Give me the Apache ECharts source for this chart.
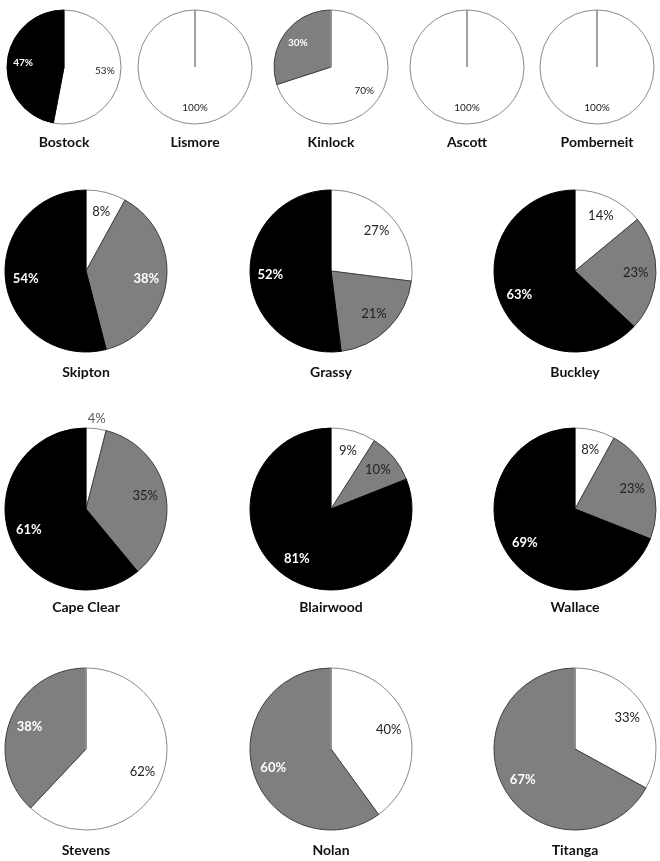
<!DOCTYPE html>
<html><head><meta charset="utf-8">
<script src="https://cdn.jsdelivr.net/npm/echarts@6/dist/echarts.min.js"></script>
<style>html,body{margin:0;padding:0;background:#fff}#c{width:660px;height:861px}</style>
</head><body><div id="c"></div>
<script>
// ---- data ----
const sites = ['Bostock','Lismore','Kinlock','Ascott','Pomberneit','Skipton','Grassy','Buckley','Cape Clear','Blairwood','Wallace','Stevens','Nolan','Titanga'];
const categories = ['White','Grey','Black'];
const whiteShare = [53,100,70,100,100, 8,27,14, 4, 9, 8,62,40,33];
const greyShare  = [ 0,  0,30,  0,  0,38,21,23,35,10,23,38,60,67];
const blackShare = [47,  0, 0,  0,  0,54,52,63,61,81,69, 0, 0, 0];

// ---- styles ----
const fills = ['#ffffff','#7f7f7f','#000000'];
const borders = ['#8a8a8a','#404040','#000000'];
const zeroLine = '#9a9a9a';
const lightGreyLabelSites = ['Kinlock','Skipton','Stevens','Nolan','Titanga'];
const FONT = 'Lato, "Open Sans", sans-serif';

// ---- layout ----
const smallX = [64,195,331,467,597], smallY = 67, smallR = 57;
const bigX = [86,331,575], bigY = [271,509,749], bigR = 81;
const titleYSmall = 142, titleYBig = [372,607,850];

const series = [], titles = [];
sites.forEach((name, i) => {
  let cx, cy, r, ty, small;
  if (i < 5) { cx = smallX[i]; cy = smallY; r = smallR; ty = titleYSmall; small = true; }
  else { const k = i - 5; cx = bigX[k % 3]; cy = bigY[Math.floor(k / 3)]; r = bigR; ty = titleYBig[Math.floor(k / 3)]; small = false; }
  const vals = [whiteShare[i], greyShare[i], blackShare[i]];
  const frac = small ? 0.72 : 0.75;
  const labelR = 2 * (frac * r - 3);
  series.push({
    type: 'pie', center: [cx, cy], radius: [0, r], startAngle: 90, clockwise: true,
    silent: true, animation: false, avoidLabelOverlap: false,
    label: { show: false }, labelLine: { show: false },
    data: vals.map((v, c) => ({
      name: categories[c], value: v,
      itemStyle: { color: fills[c], borderColor: v === 0 ? zeroLine : borders[c], borderWidth: 1 }
    }))
  });
  series.push({
    type: 'pie', center: [cx, cy], radius: [0, labelR], startAngle: 90, clockwise: true,
    silent: true, animation: false, avoidLabelOverlap: false,
    labelLine: { show: false },
    itemStyle: { color: 'rgba(0,0,0,0)', borderWidth: 0 },
    data: vals.map((v, c) => {
      const light = c === 2 || (c === 1 && lightGreyLabelSites.includes(name));
      const lbl = {
        show: v > 0, position: 'inside', formatter: v + '%',
        color: light ? '#ffffff' : '#222222',
        fontWeight: light ? 'bold' : 'normal',
        fontFamily: FONT, fontSize: small ? 10 : 13
      };
      if (name === 'Cape Clear' && c === 0) { lbl.offset = [3, -30]; lbl.color = '#595959'; }
      return { name: categories[c], value: v, label: lbl, itemStyle: { color: 'rgba(0,0,0,0)', borderWidth: 0 } };
    })
  });
  titles.push({
    text: name, left: cx, top: ty, textAlign: 'center', textVerticalAlign: 'middle', padding: 0,
    textStyle: { fontFamily: FONT, fontWeight: 'bold', fontSize: 14, color: '#111' }
  });
});

const chart = echarts.init(document.getElementById('c'), null, { renderer: 'canvas' });
chart.setOption({ backgroundColor: '#ffffff', animation: false, title: titles, series: series });
</script></body></html>
